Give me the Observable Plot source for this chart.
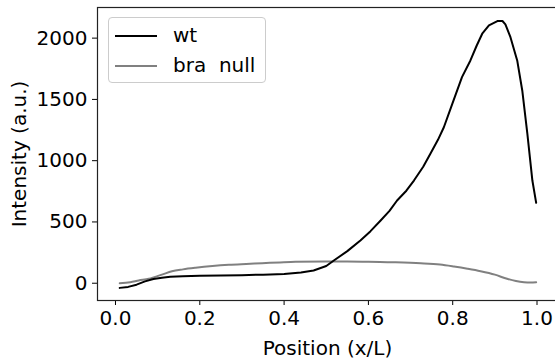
<!DOCTYPE html>
<html>
<head>
<meta charset="utf-8">
<script src="https://cdn.jsdelivr.net/npm/d3@7"></script>
<script src="https://cdn.jsdelivr.net/npm/@observablehq/plot@0.6"></script>
<style>
  html, body { margin: 0; padding: 0; background: white; overflow: hidden; }
  #wrap { position: relative; width: 555px; height: 358px; overflow: hidden; }
  #wrap svg { max-width: none !important; }
  #legend { position: absolute; left: 108px; top: 17px; width: 156px; height: 64px;
    border: 1px solid #cccccc; border-radius: 4px; background: rgba(255,255,255,0.8);
    font-family: "DejaVu Sans"; font-size: 20px; color: black; }
  .row { position: absolute; left: 0; height: 24px; }
  .sw { position: absolute; left: 6px; width: 42px; height: 2px; top: 11px; }
  .lb { position: absolute; left: 64px; top: 0; line-height: 22px; white-space: pre; }
</style>
</head>
<body>
<div id="wrap"></div>
<script>
// x positions and values
const wtX = [0.01, 0.03, 0.05, 0.07, 0.09, 0.11, 0.13, 0.16, 0.20, 0.25, 0.30, 0.35, 0.40, 0.44, 0.47, 0.50, 0.518, 0.55, 0.581, 0.605, 0.629, 0.65, 0.668, 0.69, 0.708, 0.73, 0.747, 0.765, 0.779, 0.799, 0.822, 0.842, 0.857, 0.870, 0.886, 0.906, 0.918, 0.925, 0.937, 0.953, 0.965, 0.977, 0.989, 0.998];
const wtY = [-38, -30, -12, 15, 35, 45, 52, 56, 60, 63, 66, 70, 76, 88, 104, 140, 185, 262, 349, 425, 512, 590, 675, 755, 838, 950, 1056, 1170, 1273, 1464, 1682, 1818, 1940, 2036, 2104, 2139, 2140, 2112, 2008, 1818, 1573, 1222, 838, 656];

const braX = [0.01, 0.035, 0.055, 0.079, 0.11, 0.134, 0.16, 0.19, 0.23, 0.269, 0.31, 0.348, 0.39, 0.427, 0.498, 0.55, 0.60, 0.645, 0.724, 0.77, 0.803, 0.835, 0.866, 0.90, 0.929, 0.95, 0.969, 0.985, 0.998];
const braY = [0, 8, 22, 36, 70, 98, 113, 126, 140, 150, 157, 163, 170, 175, 177, 178, 176, 172, 163, 152, 136, 118, 98, 70, 36, 18, 8, 5, 8];

const seriesNames = ["wt", "bra  null"];
const seriesColors = ["black", "#808080"];
const xTicks = [0, 0.2, 0.4, 0.6, 0.8, 1.0];
const yTicks = [0, 500, 1000, 1500, 2000];

const wt = wtX.map((x, i) => ({x, y: wtY[i]}));
const bra = braX.map((x, i) => ({x, y: braY[i]}));

const chart = Plot.plot({
  width: 560,
  height: 358,
  marginLeft: 97,
  marginRight: 3,
  marginTop: 7,
  marginBottom: 58,
  x: {domain: [-0.0427, 1.0486]},
  y: {domain: [-141, 2250]},
  style: {fontFamily: "DejaVu Sans", fontSize: "20px", background: "white", color: "black", overflow: "visible", maxWidth: "none"},
  marks: [
    Plot.axisX({ticks: xTicks, tickFormat: d3.format(".1f"), tickSize: 5, tickPadding: 5, fontSize: 20,
      label: "Position (x/L)", labelAnchor: "center", labelArrow: "none", labelOffset: 54}),
    Plot.axisY({ticks: yTicks, tickFormat: d3.format("d"), tickSize: 5, tickPadding: 5, fontSize: 20,
      label: "Intensity (a.u.)", labelAnchor: "center", labelArrow: "none", labelOffset: 86}),
    Plot.line(bra, {x: "x", y: "y", stroke: seriesColors[1], strokeWidth: 2, curve: "monotone-x"}),
    Plot.line(wt, {x: "x", y: "y", stroke: seriesColors[0], strokeWidth: 2, curve: "linear"}),
    Plot.frame({stroke: "#222", strokeWidth: 1.2})
  ]
});
const wrap = document.getElementById("wrap");
wrap.appendChild(chart);

const legend = document.createElement("div");
legend.id = "legend";
seriesNames.forEach((name, i) => {
  const row = document.createElement("div");
  row.className = "row";
  row.style.top = (6 + i * 30) + "px";
  const sw = document.createElement("div");
  sw.className = "sw";
  sw.style.background = seriesColors[i];
  const lb = document.createElement("div");
  lb.className = "lb";
  lb.textContent = name;
  row.appendChild(sw);
  row.appendChild(lb);
  legend.appendChild(row);
});
wrap.appendChild(legend);
</script>
</body>
</html>
